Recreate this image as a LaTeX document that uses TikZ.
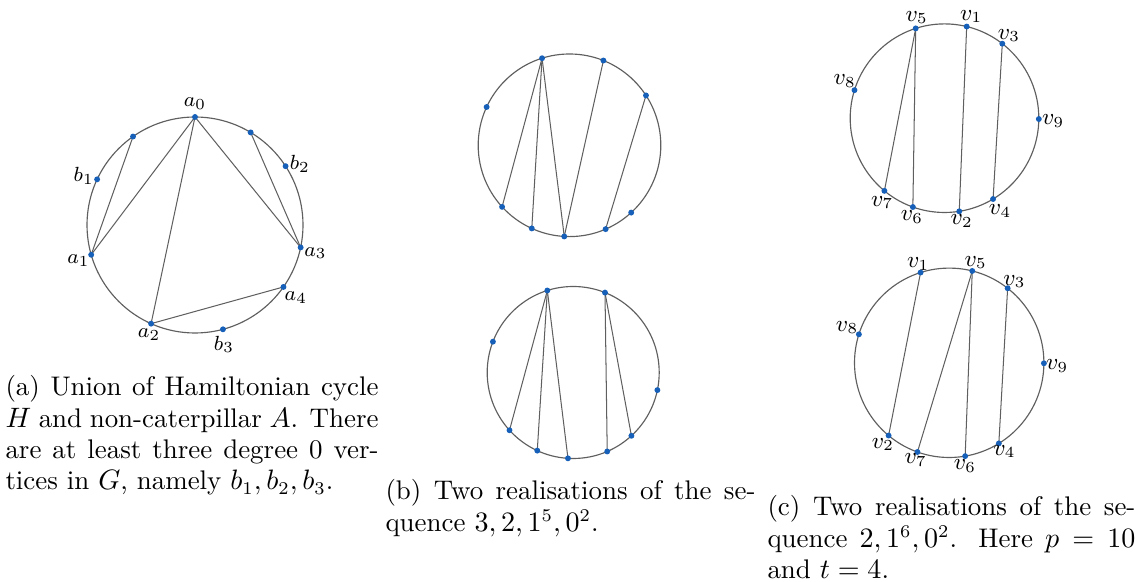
\documentclass[tikz,border=0pt]{standalone}
\usetikzlibrary{calc}
\definecolor{dotblue}{RGB}{22,96,185}
\definecolor{rimgray}{RGB}{95,95,95}
\begin{document}
\begin{tikzpicture}[x=0.39pt,y=0.39pt,
  rim/.style={draw=rimgray,line width=0.45pt},
  chord/.style={draw=rimgray,line width=0.4pt},
  dot/.style={circle,fill=dotblue,inner sep=0pt,minimum size=2.3pt},
  lab/.style={font=\fontsize{8.2}{10}\selectfont,inner sep=0pt},
  vlab/.style={font=\fontsize{8.8}{10}\selectfont,inner sep=0pt},
  captext/.style={anchor=base west,inner sep=0pt,align=justify,
    font=\fontsize{10.5}{12.2}\selectfont}]
\useasboundingbox (0,0) rectangle (1138,582);

% ---------- panel (a)
\begin{scope}[shift={(195,357)}]
  \draw[rim] (0,0) circle[radius=108];
  \foreach \n/\a in {0/90, 1/196, 2/246, 3/348, 4/325}
    \coordinate (A\n) at (\a:108);
  \foreach \n/\a in {1/155, 2/33, 3/285}
    \coordinate (B\n) at (\a:108);
  \coordinate (X1) at (125:108);
  \coordinate (X2) at (59:108);
\end{scope}
\draw[chord] (X1) -- (A1);
\draw[chord] (A0) -- (A1);
\draw[chord] (A0) -- (A2);
\draw[chord] (A0) -- (A3);
\draw[chord] (X2) -- (A3);
\draw[chord] (A2) -- (A4);
\foreach \n in {A0,A1,A2,A3,A4,B1,B2,B3,X1,X2}
  \node[dot] (d\n) at (\n) {};
\foreach \n/\t/\dx/\dy in {A0/a_0/0/13, A1/a_1/-12.7/-6, A2/a_2/-2/-11, A3/a_3/14.8/-5.6,
    A4/a_4/12.4/-10.8, B1/b_1/-13.4/3.3, B2/b_2/14.3/2.5, B3/b_3/1/-15}
  \node[lab] (l\n) at ($(\n)+(\dx,\dy)$) {$\t$};

% ---------- panel (b), top
\begin{scope}[shift={(569.5,436.7)}]
  \draw[rim] (0,0) circle[radius=91.3];
  \foreach \n/\a in {1/107.5, 2/68.2, 3/33.1, 4/155.2, 5/222.4, 6/245.6, 7/266.7, 8/293.3, 9/312.5}
    \coordinate (P\n) at (\a:91.3);
\end{scope}
\draw[chord] (P1) -- (P5);
\draw[chord] (P1) -- (P6);
\draw[chord] (P1) -- (P7);
\draw[chord] (P2) -- (P7);
\draw[chord] (P3) -- (P8);
\foreach \n in {1,...,9}
  \node[dot] (dP\n) at (P\n) {};

% ---------- panel (b), bottom
\begin{scope}[shift={(573.2,209.5)}]
  \draw[rim] (0,0) circle[radius=86];
  \foreach \n/\a in {1/107.5, 2/68.3, 3/159, 4/348.2, 5/222.2, 6/245.3, 7/266.5, 8/293.3, 9/312.6}
    \coordinate (Q\n) at (\a:86);
\end{scope}
\draw[chord] (Q1) -- (Q5);
\draw[chord] (Q1) -- (Q6);
\draw[chord] (Q1) -- (Q7);
\draw[chord] (Q2) -- (Q8);
\draw[chord] (Q2) -- (Q9);
\foreach \n in {1,...,9}
  \node[dot] (dQ\n) at (Q\n) {};

% ---------- panel (c), top
\begin{scope}[shift={(944.5,463.8)}]
  \draw[rim] (0,0) circle[radius=94.3];
  \foreach \n/\a in {5/107.8, 1/76.4, 3/52.2, 8/162.7, 9/359.5, 7/230.4, 6/250.4, 2/279, 4/301}
    \coordinate (U\n) at (\a:94.3);
\end{scope}
\draw[chord] (U5) -- (U7);
\draw[chord] (U5) -- (U6);
\draw[chord] (U1) -- (U2);
\draw[chord] (U3) -- (U4);
\foreach \n in {1,...,9}
  \node[dot] (dU\n) at (U\n) {};
\foreach \n/\dx/\dy in {5/1/10.8, 1/4.6/10.1, 3/6.7/8.2, 8/-9.8/9.2, 9/14.3/-1.8,
    7/-2.3/-11.5, 6/-1/-10.2, 2/2.4/-9.9, 4/7/-12.1}
  \node[vlab] (lU\n) at ($(U\n)+(\dx,\dy)$) {$v_{\n}$};

% ---------- panel (c), bottom
\begin{scope}[shift={(949.2,219.2)}]
  \draw[rim] (0,0) circle[radius=94.7];
  \foreach \n/\a in {1/107.6, 5/75.9, 3/51.9, 8/162.5, 9/359.7, 2/230.2, 7/250.4, 6/279.7, 4/301.6}
    \coordinate (W\n) at (\a:94.7);
\end{scope}
\draw[chord] (W1) -- (W2);
\draw[chord] (W5) -- (W7);
\draw[chord] (W5) -- (W6);
\draw[chord] (W3) -- (W4);
\foreach \n in {1,...,9}
  \node[dot] (dW\n) at (W\n) {};
\foreach \n/\dx/\dy in {1/-2.4/8.5, 5/3.5/8.5, 3/6.8/6.6, 8/-11.8/6.8, 9/13.4/-2.5,
    2/-5.7/-9.2, 7/-1.7/-7.9, 6/-0.3/-9.7, 4/5.7/-8.1}
  \node[vlab] (lW\n) at ($(W\n)+(\dx,\dy)$) {$v_{\n}$};

% ---------- captions
\node[captext,text width=145.5pt] (capa) at (5,186) {(a) Union of Hamiltonian cycle\linebreak
  $H$ and non-caterpillar $A$. There\linebreak
  are at least three degree 0 ver-\linebreak
  tices in $G$, namely $b_1,b_2,b_3$.};
\node[captext,text width=144.3pt] (capb) at (385,82) {(b) Two realisations of the se-\linebreak
  quence $3,2,1^5,0^2$.};
\node[captext,text width=143.5pt] (capc) at (767,66) {(c) Two realisations of the se-\linebreak
  quence $2,1^6,0^2$. Here $p=10$\linebreak
  and $t=4$.};
\end{tikzpicture}
\end{document}
